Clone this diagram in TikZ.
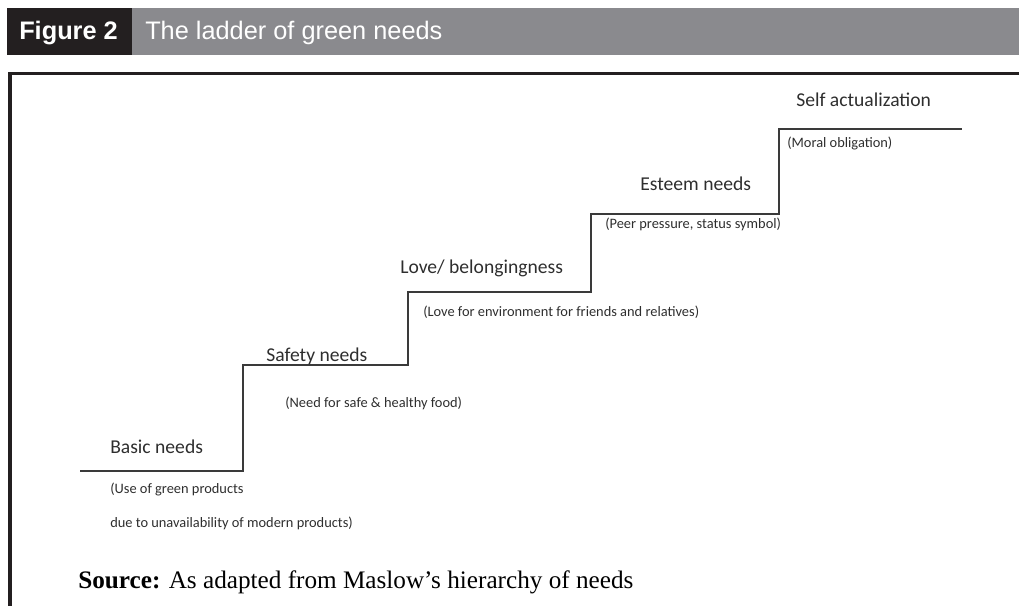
\documentclass[tikz,border=0pt]{standalone}
\usepackage{fontspec}
\setmainfont{Liberation Serif}
\newfontfamily\calib{Carlito}
\newfontfamily\helv{Liberation Sans}
\definecolor{bargray}{HTML}{8A8A8E}
\definecolor{bardark}{HTML}{231F20}
\definecolor{stepline}{HTML}{3A3A3A}
\definecolor{labtext}{HTML}{2E2E2E}
\tikzset{
  stepline/.style={draw=stepline, line width=1.1pt},
  head/.style={anchor=base west, inner sep=0pt, text=labtext, font=\calib\fontsize{14.7}{16}\selectfont},
  sub/.style={anchor=base west, inner sep=0pt, text=labtext, font=\calib\fontsize{10.8}{12}\selectfont},
}
\begin{document}
\begin{tikzpicture}[x=0.75pt,y=-0.75pt]
\useasboundingbox (0,0) rectangle (1019,606);
% header bar
\fill[bargray] (132,8) rectangle (1019,55);
\fill[bardark] (7,8) rectangle (132,55);
\node[anchor=base west, inner sep=0pt, text=white, font=\helv\bfseries\fontsize{19}{22}\selectfont] (fig) at (19,40) {Figure 2};
\node[anchor=base west, inner sep=0pt, text=white, font=\helv\fontsize{19}{22}\selectfont] (title) at (145,40) {The ladder of green needs};
% frame
\draw[bardark, line width=2.3pt] (8,73.5) -- (1019,73.5);
\draw[bardark, line width=3pt] (10,72.5) -- (10,606);
% ladder
\coordinate (s0) at (80,471);
\coordinate (s1) at (243,471);
\coordinate (s2) at (243,365);
\coordinate (s3) at (408,365);
\coordinate (s4) at (408,292);
\coordinate (s5) at (591,292);
\coordinate (s6) at (591,214);
\coordinate (s7) at (779,214);
\coordinate (s8) at (779,129);
\coordinate (s9) at (962,129);
\draw[stepline] (s0) -- (s1) -- (s2) -- (s3) -- (s4) -- (s5) -- (s6) -- (s7) -- (s8) -- (s9);
% labels
\node[head] (basic) at (110,453) {Basic needs};
\node[sub] (basic1) at (110,493) {(Use of green products};
\node[sub] (basic2) at (110,527) {due to unavailability of modern products)};
\node[head] (safety) at (266,361) {Safety needs};
\node[sub] (safety1) at (285,407) {(Need for safe \& healthy food)};
\node[head] (love) at (400,273) {Love/ belongingness};
\node[sub] (love1) at (423,316) {(Love for environment for friends and relatives)};
\node[head] (esteem) at (640,190) {Esteem needs};
\node[sub] (esteem1) at (605,228) {(Peer pressure, status symbol)};
\node[head] (self) at (796,107) {Self actualization};
\node[sub] (self1) at (787,147) {(Moral obligation)};
\node[anchor=base west, inner sep=0pt, font=\fontsize{18.9}{22}\selectfont] (src) at (78,588) {\textbf{Source:} As adapted from Maslow’s hierarchy of needs};
\end{tikzpicture}
\end{document}
